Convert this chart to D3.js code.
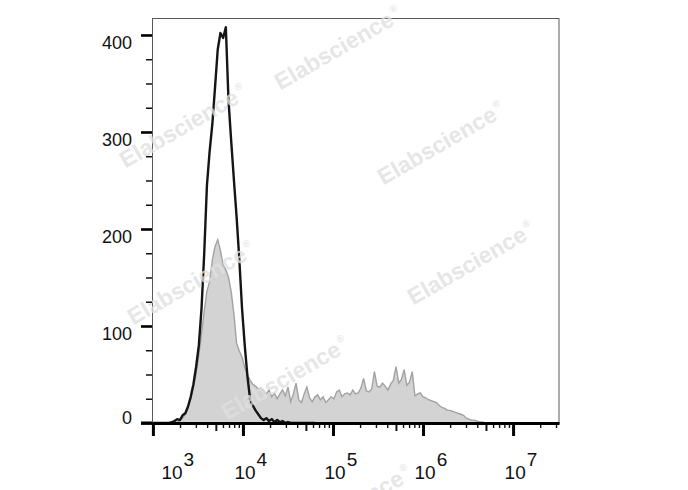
<!DOCTYPE html>
<html><head><meta charset="utf-8">
<script src="https://cdn.jsdelivr.net/npm/d3@7/dist/d3.min.js"></script>
<style>body{margin:0;background:#fff}svg{display:block}</style>
</head><body>
<svg id="c" width="688" height="490"></svg>
<script>
// ---------- data ----------
const binStart = 3.0;      // log10 of first histogram bin
const binStep = 0.03;      // bin width in decades
const blackCounts = [0,0,0,0,0,0,0,1,2,4, 3,8,10,17,27,40,58,80,118,175,
  245,280,308,346,385,402,397,408,332,290, 250,212,168,118,80,48,24,18,13,9,
  5,3,5,2,4,1,3,1,2,0, 1,0,0,0,0,0,0,0,0,0, 0];
const grayCounts = [0,0,0,0,0,0,0,0,0,1, 3,5,9,16,25,37,52,70,92,115,
  136,146,168,182,189,178,163,158,150,135, 112,82,74,68,57,50,44,40,38,35,
  36,33,30,34,27,31,25,30,34,28, 37,22,30,41,24,21,30,37,26,22,
  27,29,24,27,21,24,27,25,32,34, 27,30,31,29,34,30,31,36,46,33,
  32,35,53,38,37,41,38,34,40,44, 58,41,45,55,39,42,53,28,30,31,
  27,26,24,23,22,21,18,16,15,13, 13,12,11,10,9,8,5,4,3,3,
  2,1,1,0,0,0];
const yMajorTicks = [0,100,200,300,400];
const yMinorStep = 25;
const yMax = 417.5;
const xDecades = [3,4,5,6,7];
const xLogMin = 2.99, xLogMax = 7.51;
const watermark = "Elabscience";

// ---------- layout ----------
const svg = d3.select("#c");
const L = 152, R = 559, T = 18, B = 423;
const x = d3.scaleLog().domain([10**xLogMin, 10**xLogMax]).range([L, R]);
const y = d3.scaleLinear().domain([0, yMax]).range([B, T]);
const FONT = "'Liberation Sans', Arial, Helvetica, sans-serif";

// frame
svg.append("rect").attr("x", L+0.5).attr("y", T+0.5)
  .attr("width", R-L-0.5).attr("height", B-T)
  .attr("fill","none").attr("stroke","#5a5a5a").attr("stroke-width",1);

// histograms
const toPts = arr => arr.map((c,i)=>[10**(binStart+i*binStep), c]);
const area = d3.area().x(d=>x(d[0])).y0(y(0)).y1(d=>y(d[1]));
svg.append("path").datum(toPts(grayCounts)).attr("d", area)
  .attr("fill","#d3d3d3").attr("stroke","#a2a2a2").attr("stroke-width",1.4)
  .attr("stroke-linejoin","miter");
const line = d3.line().x(d=>x(d[0])).y(d=>y(d[1]));
svg.append("path").datum(toPts(blackCounts)).attr("d", line)
  .attr("fill","none").attr("stroke","#151515").attr("stroke-width",2.4)
  .attr("stroke-linejoin","round");

// watermarks
const wmPos = [[342,55],[187,133],[445,150],[195,290],[475,270],[289,385],[352,514]];
const wm = svg.append("g").attr("pointer-events","none");
wmPos.forEach(([cx,cy])=>{
  const t = wm.append("text").attr("transform",`translate(${cx},${cy}) rotate(-30)`)
    .attr("text-anchor","middle").attr("font-family",FONT).attr("font-weight","bold")
    .attr("font-size",23).attr("fill","#e0e0e0").attr("fill-opacity",0.8);
  t.append("tspan").text(watermark);
  t.append("tspan").attr("font-size",10).attr("dy",-11).attr("dx",2).text("\u00AE");
});

// y axis minor ticks
const yMinor = d3.range(0, yMax, yMinorStep).filter(v=>!yMajorTicks.includes(v));
const gyMinor = svg.append("g").attr("transform",`translate(${L},0)`)
  .call(d3.axisLeft(y).tickValues(yMinor).tickSize(6).tickFormat(""));
gyMinor.select(".domain").remove();
gyMinor.selectAll("line").attr("stroke","#111").attr("stroke-width",1.5);

// y axis major ticks
const gy = svg.append("g").attr("transform",`translate(${L},0)`)
  .call(d3.axisLeft(y).tickValues(yMajorTicks).tickSize(11).tickPadding(9));
gy.select(".domain").remove();
gy.selectAll("line").attr("stroke","#000").attr("stroke-width",2.6);
gy.selectAll("text").attr("font-family",FONT).attr("font-size",18).attr("fill","#111")
  .attr("dy",null).attr("y", d => d===0 ? 0 : 13.5);

// x axis minor ticks
const xMinor = [];
xDecades.forEach(k=>{ for(let m=2;m<=9;m++){ const v=m*10**k; if(v<=10**xLogMax) xMinor.push(v);} });
const gxMinor = svg.append("g").attr("transform",`translate(0,${B})`)
  .call(d3.axisBottom(x).tickValues(xMinor).tickSize(5).tickFormat(""));
gxMinor.select(".domain").remove();
gxMinor.selectAll("line").attr("stroke","#111")
  .attr("y2", d => Math.round(d/10**Math.floor(Math.log10(d)+1e-9))===5 ? 8 : 5)
  .attr("stroke-width", d => Math.round(d/10**Math.floor(Math.log10(d)+1e-9))===5 ? 2 : 1.4);

// x axis major ticks + line
const gx = svg.append("g").attr("transform",`translate(0,${B})`)
  .call(d3.axisBottom(x).tickValues(xDecades.map(k=>10**k)).tickSize(13).tickSizeOuter(0).tickFormat(""));
gx.select(".domain").attr("stroke","#000").attr("stroke-width",3);
gx.selectAll(".tick line").attr("stroke","#000").attr("stroke-width",3);
gx.selectAll(".tick").each(function(d,i){
  const t = d3.select(this).append("text").attr("x", i===0 ? 8 : -9).attr("y",56)
    .attr("text-anchor","start").attr("font-family",FONT).attr("font-size",19).attr("fill","#111");
  t.append("tspan").text("10");
  t.append("tspan").attr("dy",-13).attr("dx",1).text(xDecades[i]);
});
// extend baseline left to meet the 0 tick
svg.append("line").attr("x1", L-11).attr("x2", L).attr("y1", B).attr("y2", B)
  .attr("stroke","#000").attr("stroke-width",3);
</script>
</body></html>
